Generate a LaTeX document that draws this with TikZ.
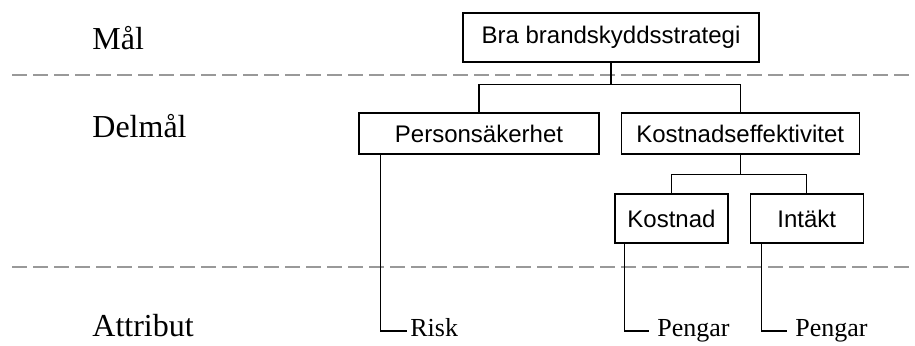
\documentclass[tikz,border=0pt]{standalone}
\usepackage{fontspec}
\setmainfont{Liberation Serif}
\setsansfont{Liberation Sans}
\usetikzlibrary{calc, positioning}

\tikzset{
  goalbox/.style={draw, line width=.6pt, inner sep=0pt, font=\sffamily\fontsize{12}{14}\selectfont},
  levellabel/.style={anchor=base west, inner sep=0pt, font=\fontsize{16}{19}\selectfont},
  attrib/.style={anchor=west, inner ysep=0pt, inner xsep=4pt, text height=8pt, text depth=3pt, font=\fontsize{13}{15}\selectfont},
  levelsep/.style={draw=black!40, line width=.75pt, dash pattern=on 7.5pt off 3pt},
  tree/.style={line width=.6pt}
}

\begin{document}
\begin{tikzpicture}[x=.5pt, y=-.5pt]
		\useasboundingbox (0,0) rectangle (915,345);
		% niva-skiljelinjer
		\draw[levelsep] (12,75) -- (915,75);
		\draw[levelsep] (12,267) -- (915,267);
		
		\node[levellabel] (mal) at (92,49) {Mål};
		\node[levellabel] (delmal) at (92,137) {Delmål};
		\node[levellabel] (attr) at (92,336) {Attribut};
		
		\node[goalbox, minimum width=148pt, minimum height=24.5pt] (top) at (611,37.5) {Bra brandskyddsstrategi};
		\node[goalbox, minimum width=120pt, minimum height=20.5pt] (pers) at (479,133.5) {Personsäkerhet};
		\node[goalbox, minimum width=119pt, minimum height=20.5pt, right=10.5pt of pers] (eff) {Kostnadseffektivitet};
		\node[goalbox, minimum width=56.5pt, minimum height=24.5pt] (cost) at (671.5,218.5) {Kostnad};
		\node[goalbox, minimum width=56.5pt, minimum height=24.5pt, right=10.5pt of cost] (inc) {Intäkt};
		
		\node[attrib, inner xsep=1.5pt] (risk) at (407,331) {Risk};
		\node[attrib] (peng1) at (649,331) {Pengar};
		\node[attrib] (peng2) at (787,331) {Pengar};
		
		\draw[tree] (top.south) -- ++(0,22) coordinate (j1);
		\draw[tree] (pers.north) |- (j1) -| (eff.north);
		\draw[tree] (eff.south) -- ++(0,20) coordinate (j2);
		\draw[tree] (cost.north) |- (j2) -| (inc.north);
		
		\draw[tree] ([xshift=11pt]pers.south west) |- (risk.west);
		\draw[tree] ([xshift=5pt]cost.south west) |- (peng1.west);
		\draw[tree] ([xshift=6pt]inc.south west) |- (peng2.west);
		
	\end{tikzpicture}
\end{document}
